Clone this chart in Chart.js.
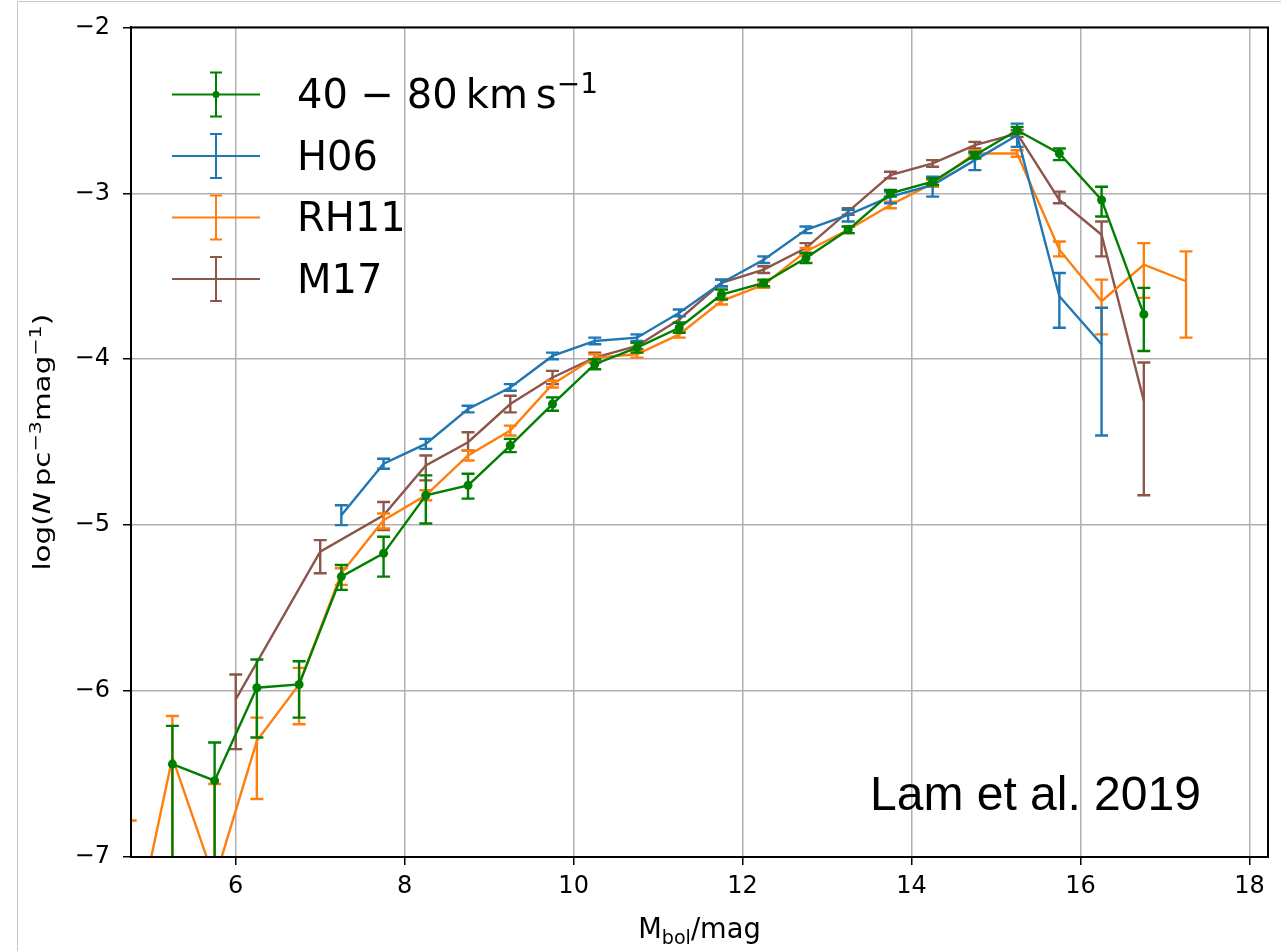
<!DOCTYPE html>
<html>
<head>
<meta charset="utf-8">
<script src="https://cdn.jsdelivr.net/npm/chart.js@4.4.1/dist/chart.umd.min.js"></script>
<style>
  html, body { margin: 0; padding: 0; background: #fff; }
  #lf { display: block; }
</style>
</head>
<body>
<canvas id="lf" width="1281" height="951"></canvas>
<script>
// axis ticks
const xTicks = [6, 8, 10, 12, 14, 16, 18];
const yTicks = [-7, -6, -5, -4, -3, -2];

// 40-80 km/s sample
const greenX = [5.25, 5.75, 6.25, 6.75, 7.25, 7.75, 8.25, 8.75, 9.25, 9.75, 10.25, 10.75,
                11.25, 11.75, 12.25, 12.75, 13.25, 13.75, 14.25, 14.75, 15.25, 15.75, 16.25, 16.75];
const greenY = [-6.44, -6.54, -5.98, -5.96, -5.31, -5.17, -4.82, -4.76, -4.52, -4.27, -4.03, -3.93,
                -3.81, -3.61, -3.54, -3.39, -3.22, -3.00, -2.93, -2.77, -2.62, -2.76, -3.04, -3.73];
const greenUp = [0.23, 0.23, 0.17, 0.14, 0.07, 0.10, 0.12, 0.07, 0.04, 0.04, 0.03, 0.03,
                 0.03, 0.03, 0.02, 0.03, 0.02, 0.02, 0.02, 0.02, 0.02, 0.03, 0.08, 0.16];
const greenDn = [0.90, 0.90, 0.30, 0.20, 0.08, 0.14, 0.17, 0.08, 0.04, 0.04, 0.03, 0.03,
                 0.03, 0.03, 0.02, 0.03, 0.02, 0.02, 0.02, 0.02, 0.02, 0.04, 0.10, 0.22];

// H06
const blueX = [7.25, 7.75, 8.25, 8.75, 9.25, 9.75, 10.25, 10.75, 11.25, 11.75,
               12.25, 12.75, 13.25, 13.75, 14.25, 14.75, 15.25, 15.75, 16.25];
const blueY = [-4.94, -4.63, -4.51, -4.30, -4.17, -3.98, -3.89, -3.87, -3.72, -3.54,
               -3.40, -3.22, -3.13, -3.02, -2.95, -2.80, -2.65, -3.62, -3.91];
const blueUp = [0.06, 0.03, 0.03, 0.02, 0.02, 0.02, 0.02, 0.02, 0.02, 0.02,
                0.02, 0.02, 0.03, 0.03, 0.05, 0.04, 0.07, 0.14, 0.22];
const blueDn = [0.06, 0.03, 0.03, 0.02, 0.02, 0.02, 0.02, 0.02, 0.02, 0.02,
                0.02, 0.02, 0.04, 0.04, 0.07, 0.06, 0.07, 0.19, 0.55];

// RH11
const orangeX = [4.75, 5.25, 5.75, 6.25, 6.75, 7.25, 7.75, 8.25, 8.75, 9.25, 9.75, 10.25, 10.75,
                 11.25, 11.75, 12.25, 12.75, 13.25, 13.75, 14.25, 14.75, 15.25, 15.75, 16.25, 16.75, 17.25];
const orangeY = [-7.60, -6.40, -7.14, -6.30, -5.96, -5.29, -4.97, -4.82, -4.58, -4.43, -4.15, -3.99, -3.97,
                 -3.85, -3.65, -3.55, -3.35, -3.22, -3.07, -2.94, -2.76, -2.76, -3.34, -3.65, -3.43, -3.53];
const orangeUp = [0.82, 0.25, 0.58, 0.14, 0.10, 0.03, 0.04, 0.03, 0.03, 0.03, 0.02, 0.02, 0.02,
                  0.02, 0.02, 0.02, 0.02, 0.02, 0.02, 0.02, 0.02, 0.02, 0.05, 0.13, 0.13, 0.18];
const orangeDn = [0.90, 0.90, 0.90, 0.35, 0.24, 0.07, 0.05, 0.03, 0.03, 0.03, 0.02, 0.02, 0.02,
                  0.02, 0.02, 0.02, 0.02, 0.02, 0.02, 0.02, 0.02, 0.02, 0.04, 0.20, 0.20, 0.34];

// M17
const brownX = [6.0, 7.0, 7.75, 8.25, 8.75, 9.25, 9.75, 10.25, 10.75, 11.25, 11.75,
                12.25, 12.75, 13.25, 13.75, 14.25, 14.75, 15.25, 15.75, 16.25, 16.75];
const brownY = [-6.05, -5.16, -4.94, -4.64, -4.50, -4.27, -4.11, -3.99, -3.92, -3.76, -3.54,
                -3.46, -3.33, -3.11, -2.89, -2.82, -2.71, -2.64, -3.04, -3.25, -4.25];
const brownUp = [0.15, 0.07, 0.08, 0.06, 0.06, 0.05, 0.04, 0.03, 0.02, 0.02, 0.02,
                 0.02, 0.03, 0.02, 0.02, 0.02, 0.02, 0.02, 0.05, 0.08, 0.23];
const brownDn = [0.30, 0.13, 0.09, 0.09, 0.05, 0.05, 0.04, 0.03, 0.02, 0.02, 0.02,
                 0.02, 0.03, 0.02, 0.02, 0.02, 0.02, 0.02, 0.02, 0.13, 0.57];

const FONT = "'DejaVu Sans', sans-serif";
const LW = 2.4;

function pts(xs, ys) {
    return xs.map((x, i) => ({ x: x, y: ys[i] }));
}

function makeSet(label, color, xs, ys, up, dn, marker) {
    return {
        label: label,
        data: pts(xs, ys),
        borderColor: color,
        backgroundColor: color,
        borderWidth: LW,
        pointRadius: marker ? 4.5 : 0,
        pointBorderWidth: 0,
        pointHoverRadius: 0,
        tension: 0,
        errUp: up,
        errDn: dn
    };
}

// error bars drawn after each dataset so the stacking follows the lines
const errorBars = {
    id: 'errorBars',
    afterDatasetDraw(chart, args) {
        const ds = chart.data.datasets[args.index];
        const xs = chart.scales.x, ys = chart.scales.y;
        const area = chart.chartArea;
        const ctx = chart.ctx;
        ctx.save();
        ctx.beginPath();
        ctx.rect(area.left, area.top, area.right - area.left, area.bottom - area.top);
        ctx.clip();
        ctx.strokeStyle = ds.borderColor;
        ctx.lineWidth = LW;
        ds.data.forEach((p, i) => {
            const px = xs.getPixelForValue(p.x);
            const top = ys.getPixelForValue(p.y + ds.errUp[i]);
            const bot = ys.getPixelForValue(p.y - ds.errDn[i]);
            ctx.beginPath();
            ctx.moveTo(px, top); ctx.lineTo(px, bot);
            ctx.moveTo(px - 6.5, top); ctx.lineTo(px + 6.5, top);
            ctx.moveTo(px - 6.5, bot); ctx.lineTo(px + 6.5, bot);
            ctx.stroke();
        });
        ctx.restore();
    }
};

// text pieces with super/subscripts
function drawRich(ctx, parts, x, y, size) {
    let cx = x;
    parts.forEach(p => {
        const s = p.sup || p.sub ? size * 0.7 : size;
        ctx.font = (p.it ? 'italic ' : '') + s + 'px ' + FONT;
        const dy = p.sup ? -size * 0.38 : (p.sub ? size * 0.22 : 0);
        ctx.fillText(p.t, cx, y + dy);
        cx += ctx.measureText(p.t).width;
    });
    return cx - x;
}

function richWidth(ctx, parts, size) {
    let w = 0;
    parts.forEach(p => {
        const s = p.sup || p.sub ? size * 0.7 : size;
        ctx.font = (p.it ? 'italic ' : '') + s + 'px ' + FONT;
        w += ctx.measureText(p.t).width;
    });
    return w;
}

const decorations = {
    id: 'decorations',
    beforeDraw(chart) {
        const ctx = chart.ctx;
        ctx.save();
        ctx.strokeStyle = '#c8c8c8';
        ctx.lineWidth = 1;
        ctx.beginPath();
        ctx.moveTo(17.5, 951); ctx.lineTo(17.5, 1.5); ctx.lineTo(1281, 1.5);
        ctx.stroke();
        ctx.restore();
    },
    afterDraw(chart) {
        const ctx = chart.ctx;
        const a = chart.chartArea;
        ctx.save();
        // frame
        ctx.strokeStyle = '#000';
        ctx.lineWidth = 2;
        ctx.strokeRect(a.left, a.top, a.right - a.left, a.bottom - a.top);

        ctx.fillStyle = '#000';
        ctx.textBaseline = 'alphabetic';
        // x title
        const xParts = [{ t: 'M' }, { t: 'bol', sub: true }, { t: '/mag' }];
        const xw = richWidth(ctx, xParts, 26) * 1.05;
        ctx.translate((a.left + a.right) / 2 - xw / 2, 938);
        ctx.scale(1.05, 1.1);
        drawRich(ctx, xParts, 0, 0, 26);
        ctx.setTransform(1, 0, 0, 1, 0, 0);

        // y title, stretched along its length like the reference
        const yParts = [{ t: 'log(' }, { t: 'N', it: true }, { t: '\u2009pc' }, { t: '\u22123', sup: true },
                        { t: 'mag' }, { t: '\u22121', sup: true }, { t: ')' }];
        const ys = 1.28;
        const yw = richWidth(ctx, yParts, 23) * ys;
        ctx.translate(50, (a.top + a.bottom) / 2);
        ctx.rotate(-Math.PI / 2);
        ctx.scale(ys, 1);
        drawRich(ctx, yParts, -yw / 2 / ys, 0, 23);
        ctx.setTransform(1, 0, 0, 1, 0, 0);

        // legend
        const items = chart.data.datasets;
        const lx = a.left + 41, lw = 88;
        items.forEach((ds, i) => {
            const cy = a.top + 67 + i * 61.5;
            const mx = lx + lw / 2;
            ctx.strokeStyle = ds.borderColor;
            ctx.lineWidth = 2;
            ctx.beginPath();
            ctx.moveTo(lx, cy); ctx.lineTo(lx + lw, cy);
            ctx.moveTo(mx, cy - 22); ctx.lineTo(mx, cy + 22);
            ctx.moveTo(mx - 6, cy - 22); ctx.lineTo(mx + 6, cy - 22);
            ctx.moveTo(mx - 6, cy + 22); ctx.lineTo(mx + 6, cy + 22);
            ctx.stroke();
            if (ds.pointRadius > 0) {
                ctx.fillStyle = ds.borderColor;
                ctx.beginPath();
                ctx.arc(mx, cy, 3.5, 0, Math.PI * 2);
                ctx.fill();
            }
            ctx.fillStyle = '#000';
            const parts = i === 0
                ? [{ t: '40 \u2212 80\u2009km\u2009s' }, { t: '\u22121', sup: true }]
                : [{ t: ds.label }];
            drawRich(ctx, parts, a.left + 166, cy + 14, 40);
        });

        // credit
        ctx.font = "48px 'Liberation Sans', Arial, sans-serif";
        ctx.fillStyle = '#000';
        ctx.fillText('Lam et al. 2019', a.left + 739, a.top + 783);
        ctx.restore();
    }
};

new Chart(document.getElementById('lf'), {
    type: 'line',
    data: {
        datasets: [
            makeSet('40-80 km/s', '#008000', greenX, greenY, greenUp, greenDn, true),
            makeSet('H06', '#1f77b4', blueX, blueY, blueUp, blueDn, false),
            makeSet('RH11', '#ff7f0e', orangeX, orangeY, orangeUp, orangeDn, false),
            makeSet('M17', '#8c564b', brownX, brownY, brownUp, brownDn, false)
        ]
    },
    options: {
        responsive: false,
        animation: false,
        devicePixelRatio: 1,
        layout: { padding: { left: 0, right: 13, top: 21, bottom: 0 } },
        plugins: {
            legend: { display: false },
            tooltip: { enabled: false }
        },
        scales: {
            x: {
                type: 'linear',
                min: 4.76,
                max: 18.22,
                afterBuildTicks: axis => { axis.ticks = xTicks.map(v => ({ value: v })); },
                afterFit: axis => { axis.height = 94; },
                grid: { color: '#b0b0b0', lineWidth: 1.5, tickColor: '#000', tickLength: 8, tickWidth: 1.5 },
                border: { color: '#000', width: 2 },
                ticks: { color: '#000', font: { family: FONT, size: 24 }, padding: 7 }
            },
            y: {
                type: 'linear',
                min: -7,
                max: -2,
                afterBuildTicks: axis => { axis.ticks = yTicks.map(v => ({ value: v })); },
                afterFit: axis => { axis.width = 131; },
                grid: { color: '#b0b0b0', lineWidth: 1.5, tickColor: '#000', tickLength: 8, tickWidth: 1.5 },
                border: { color: '#000', width: 2 },
                ticks: {
                    color: '#000',
                    font: { family: FONT, size: 24 },
                    padding: 13,
                    callback: v => String(v).replace('-', '\u2212')
                }
            }
        }
    },
    plugins: [errorBars, decorations]
});
</script>
</body>
</html>
